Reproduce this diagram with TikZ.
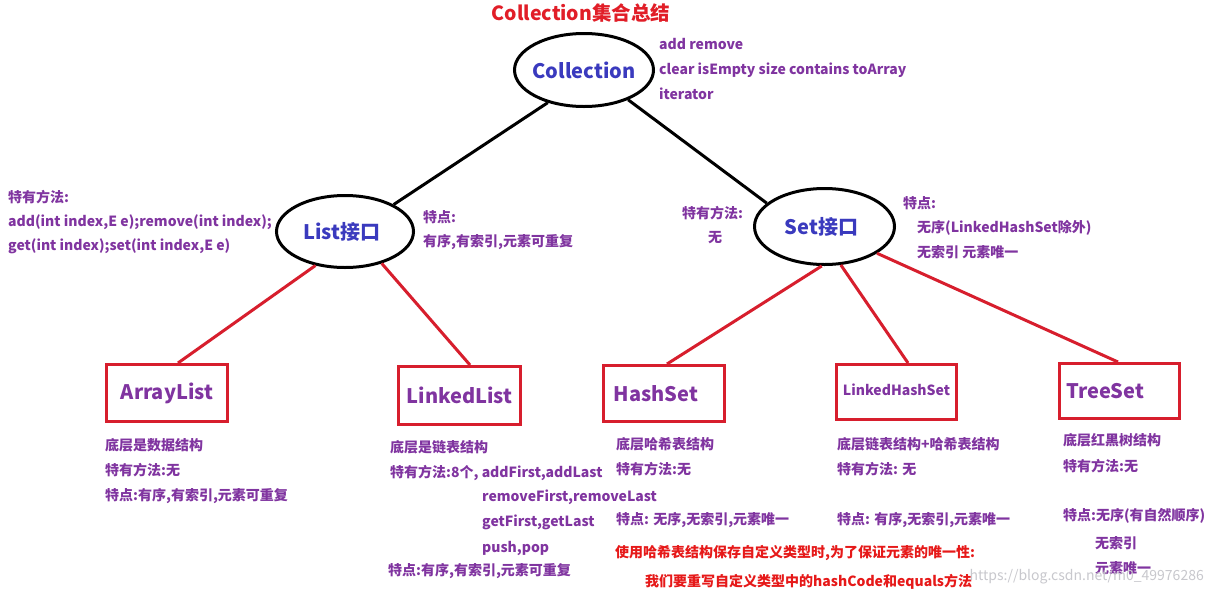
\documentclass[tikz,border=0pt]{standalone}
\usepackage{fontspec}
\setmainfont{Noto Sans CJK SC}
\usetikzlibrary{shapes.geometric}
\definecolor{pur}{RGB}{128,52,160}
\definecolor{blu}{RGB}{58,58,190}
\definecolor{ttlred}{RGB}{225,30,40}
\definecolor{boxred}{RGB}{215,30,45}
\definecolor{txtred}{RGB}{230,25,25}
\definecolor{wm}{RGB}{200,200,205}
\begin{document}
\begin{tikzpicture}[x=1pt,y=-1pt,
  txt/.style={anchor=west, inner sep=0pt, text=pur, font=\fontsize{14}{16}\selectfont\bfseries},
  redtxt/.style={txt, text=txtred},
  ell/.style={ellipse, draw=black, line width=3pt, inner sep=0pt, text=blu, font=\fontsize{20}{22}\selectfont\bfseries},
  cls/.style={rectangle, draw=boxred, line width=3pt, inner sep=0pt, text=pur, font=\fontsize{20}{22}\selectfont\bfseries},
  blk/.style={line width=3pt, draw=black},
  redl/.style={line width=3pt, draw=boxred}]
\useasboundingbox (0,0) rectangle (1213,595);
\fill[white] (0,0) rectangle (1213,595);

% title
\node[inner sep=0pt, text=ttlred, font=\fontsize{19.5}{22}\selectfont\bfseries] (title) at (581,13) {Collection集合总结};

% ellipses
\node[ell, minimum width=139pt, minimum height=73pt] (coll) at (584,70) {\makebox[0pt]{Collection}};
\node[ell, minimum width=137pt, minimum height=72pt] (list) at (345,231.5) {\makebox[0pt]{\hspace{-6pt}List接口}};
\node[ell, minimum width=140pt, minimum height=76pt] (set) at (824.5,226.5) {\makebox[0pt]{\hspace{-6pt}Set接口}};

% boxes
\node[cls, minimum width=121pt, minimum height=57pt] (al) at (167,393) {\makebox[0pt]{ArrayList}};
\node[cls, minimum width=122pt, minimum height=58pt] (ll) at (459.5,395.5) {\makebox[0pt]{LinkedList}};
\node[cls, minimum width=121pt, minimum height=56pt] (hs) at (664,393.5) {\makebox[0pt]{\hspace{-16pt}HashSet}};
\node[cls, minimum width=120pt, minimum height=55pt, font=\fontsize{14}{16}\selectfont\bfseries] (lhs) at (896.5,392) {\makebox[0pt]{\raisebox{4pt}{LinkedHashSet}}};
\node[cls, minimum width=120pt, minimum height=55pt] (ts) at (1119.5,391) {\makebox[0pt]{\hspace{-28pt}TreeSet}};

% connectors
\draw[blk] (coll.222.7) -- (list.29);
\draw[blk] (coll.326) -- (set.158);
\draw[redl] (list.229.5) -- ([xshift=11pt]al.north);
\draw[redl] (list.319) -- ([xshift=10.5pt]ll.north);
\draw[redl] (set.266) -- ([xshift=3pt]hs.north);
\draw[redl] (set.293) -- ([xshift=11.5pt]lhs.north);
\draw[redl] (set.333) -- ([xshift=-1.5pt]ts.north);

% collection methods
\node[txt] (cm1) at (659,44) {add remove};
\node[txt] (cm2) at (659,70) {clear isEmpty size contains toArray};
\node[txt] (cm3) at (659,94) {iterator};

% list notes
\node[txt] (lm1) at (8,197) {特有方法:};
\node[txt] (lm2) at (8,222) {add(int index,E e);remove(int index);};
\node[txt] (lm3) at (8,246) {get(int index);set(int index,E e)};
\node[txt] (lf1) at (423,217) {特点:};
\node[txt] (lf2) at (423,242) {有序,有索引,元素可重复};

% set notes
\node[txt] (sm1) at (682,213) {特有方法:};
\node[txt] (sm2) at (708,238) {无};
\node[txt] (sf1) at (903,203) {特点:};
\node[txt] (sf2) at (917,228) {无序(LinkedHashSet除外)};
\node[txt] (sf3) at (917,252) {无索引 元素唯一};

% ArrayList
\node[txt] (a1) at (105,445) {底层是数据结构};
\node[txt] (a2) at (105,470) {特有方法:无};
\node[txt] (a3) at (105,496) {特点:有序,有索引,元素可重复};

% LinkedList
\node[txt] (l1) at (390,447) {底层是链表结构};
\node[txt] (l2) at (390,473) {特有方法:8个, addFirst,addLast};
\node[txt] (l3) at (482,497) {removeFirst,removeLast};
\node[txt] (l4) at (482,522) {getFirst,getLast};
\node[txt] (l5) at (482,548) {push,pop};
\node[txt] (l6) at (388,571) {特点:有序,有索引,元素可重复};

% HashSet
\node[txt] (h1) at (616,444) {底层哈希表结构};
\node[txt] (h2) at (616,469) {特有方法:无};
\node[txt] (h3) at (616,520) {特点: 无序,无索引,元素唯一};
\node[redtxt] (r1) at (615,553) {使用哈希表结构保存自定义类型时,为了保证元素的唯一性:};
\node[redtxt] (r2) at (645,582) {我们要重写自定义类型中的hashCode和equals方法};

% LinkedHashSet
\node[txt] (k1) at (837,444) {底层链表结构+哈希表结构};
\node[txt] (k2) at (837,469) {特有方法: 无};
\node[txt] (k3) at (837,520) {特点: 有序,无索引,元素唯一};

% TreeSet
\node[txt] (t1) at (1063,440) {底层红黑树结构};
\node[txt] (t2) at (1063,466) {特有方法:无};
\node[txt] (t3) at (1063,516) {特点:无序(有自然顺序)};
\node[txt] (t4) at (1095,543) {无索引};
\node[txt] (t5) at (1095,568) {元素唯一};

% watermark
\node[anchor=east, inner sep=0pt, text=wm, font=\fontsize{14}{16}\selectfont] (wmk) at (1204,577) {https://blog.csdn.net/m0\_49976286};
\end{tikzpicture}
\end{document}
